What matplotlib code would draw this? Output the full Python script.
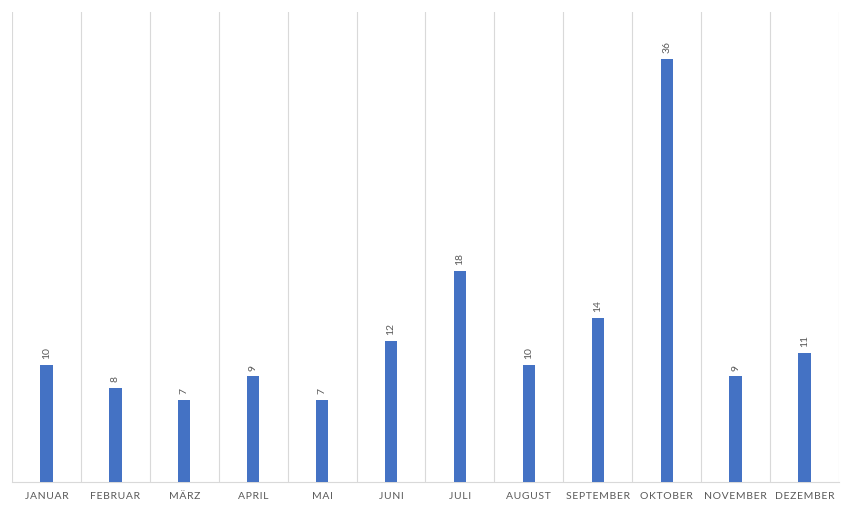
import numpy as np
import matplotlib.pyplot as plt

months = ['Januar', 'Februar', 'März', 'April', 'Mai', 'Juni', 'Juli',
          'August', 'September', 'Oktober', 'November', 'Dezember']
counts = [10, 8, 7, 9, 7, 12, 18, 10, 14, 36, 9, 11]

plt.rcParams['font.family'] = ['Lato', 'DejaVu Sans']

fig = plt.figure(figsize=(8.5, 5.07), dpi=100)
ax = fig.add_axes([12 / 850, 25 / 507, 827 / 850, 470 / 507])

x = np.arange(len(months))
bars = ax.bar(x, counts, width=0.18, color='#4472C4', zorder=3)

# Data labels, rotated like the original
for rect, val in zip(bars, counts):
    ax.annotate(str(val), (rect.get_x() + rect.get_width() / 2, rect.get_height()),
                xytext=(0, 4), textcoords='offset points', rotation=90,
                ha='center', va='bottom', fontsize=7.5, color='#595959')

ax.set_xlim(-0.5, len(months) - 0.5)
ax.set_ylim(0, 40)

# Category separators
for b in np.arange(-0.5, len(months), 1.0):
    ax.axvline(b, color='#D9D9D9', lw=0.8, zorder=1)

ax.set_xticks(x)
spaced = ['\u200a'.join(m.upper()) for m in months]
ax.set_xticklabels(spaced, fontsize=7.5, color='#595959')
ax.tick_params(axis='x', length=0, pad=7)
ax.set_yticks([])

for s in ['top', 'left', 'right']:
    ax.spines[s].set_visible(False)
ax.spines['bottom'].set_color('#D9D9D9')
ax.spines['bottom'].set_linewidth(0.8)

fig.savefig('out.png', dpi=100)
